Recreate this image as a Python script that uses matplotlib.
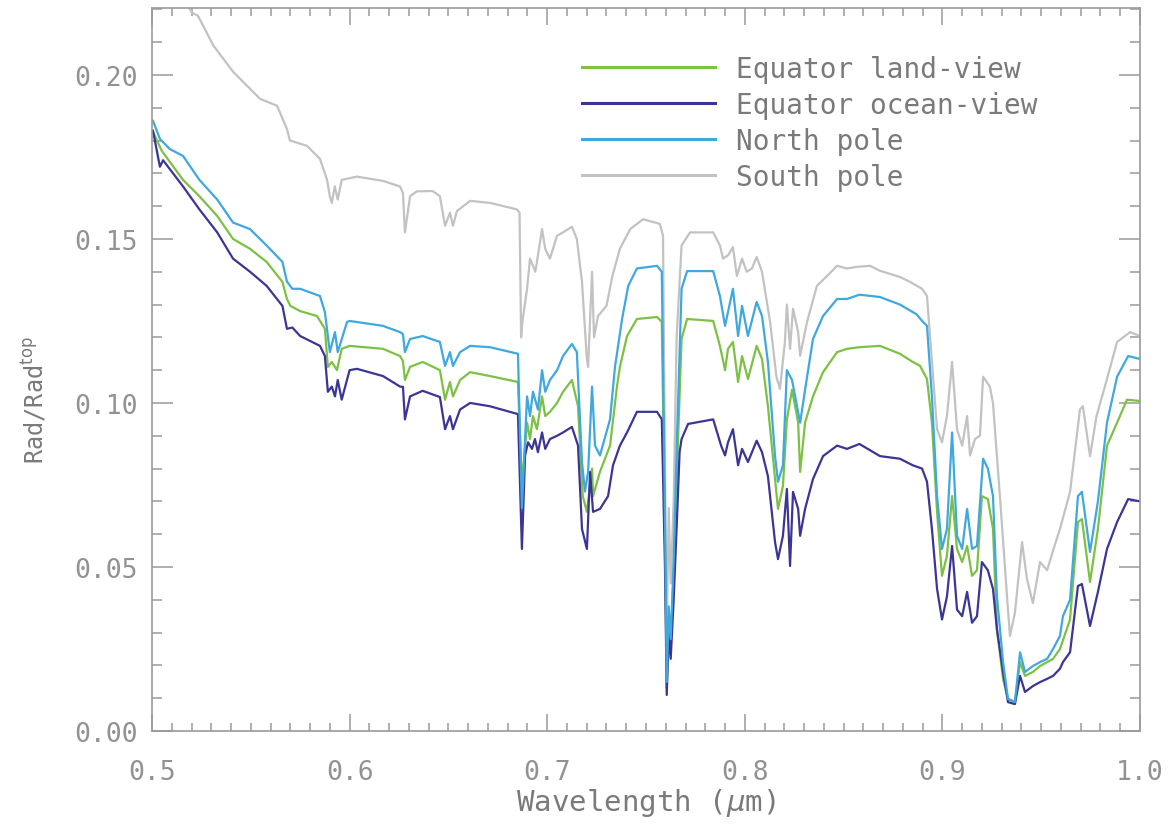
import matplotlib
matplotlib.use("Agg")
import matplotlib.pyplot as plt
from matplotlib.ticker import MultipleLocator

# ---- spectra: wavelength (um) and normalised radiance Rad/Rad_top ----
wl_south = [0.500, 0.512, 0.5202, 0.5233, 0.531, 0.541, 0.5547, 0.5633, 0.5683, 0.5698,
            0.5784, 0.585, 0.5886, 0.590, 0.591, 0.5925, 0.594, 0.596, 0.6037, 0.6169,
            0.6255, 0.627, 0.628, 0.6306, 0.634, 0.642, 0.6457, 0.6483, 0.6508, 0.6523,
            0.6543, 0.661, 0.671, 0.6847, 0.686, 0.6868, 0.6875, 0.6898, 0.6913, 0.694,
            0.6974, 0.699, 0.7014, 0.705, 0.708, 0.7125, 0.715, 0.7176, 0.720, 0.7207,
            0.7227, 0.7237, 0.7257, 0.730, 0.733, 0.7368, 0.742, 0.7485, 0.757, 0.7586,
            0.7596, 0.7605, 0.7615, 0.7625, 0.764, 0.7655, 0.768, 0.7723, 0.784, 0.7874,
            0.789, 0.7915, 0.794, 0.796, 0.7986, 0.801, 0.8036, 0.806, 0.8087, 0.8128,
            0.816, 0.8178, 0.8203, 0.8213, 0.8229, 0.8244, 0.827, 0.828, 0.8315, 0.8365,
            0.8416, 0.8467, 0.8517, 0.8568, 0.8634, 0.8684, 0.8785, 0.8836, 0.8897, 0.8922,
            0.8947, 0.8973, 0.8998, 0.9023, 0.9049, 0.9074, 0.910, 0.9125, 0.914, 0.9165,
            0.919, 0.9206, 0.924, 0.9256, 0.9291, 0.9327, 0.9342, 0.9367, 0.9403, 0.9428,
            0.9458, 0.9494, 0.953, 0.956, 0.9595, 0.9646, 0.9696, 0.9711, 0.9747, 0.978,
            0.9833, 0.9884, 0.995, 1.000]
rad_south = [0.238, 0.227, 0.219, 0.218, 0.209, 0.201, 0.1927, 0.1906, 0.1835, 0.180,
             0.1784, 0.1744, 0.168, 0.163, 0.161, 0.166, 0.162, 0.168, 0.169, 0.1677,
             0.166, 0.164, 0.152, 0.163, 0.1645, 0.1646, 0.163, 0.154, 0.158, 0.154,
             0.1585, 0.1616, 0.161, 0.159, 0.158, 0.120, 0.125, 0.1348, 0.144, 0.140,
             0.153, 0.147, 0.144, 0.151, 0.152, 0.1537, 0.150, 0.137, 0.114, 0.111,
             0.140, 0.120, 0.1265, 0.1296, 0.1387, 0.147, 0.153, 0.156, 0.1546, 0.151,
             0.080, 0.030, 0.068, 0.045, 0.070, 0.120, 0.148, 0.152, 0.152, 0.148,
             0.144, 0.145, 0.1475, 0.1387, 0.144, 0.140, 0.141, 0.1445, 0.140, 0.1247,
             0.108, 0.1043, 0.1186, 0.130, 0.1165, 0.1287, 0.1216, 0.1144, 0.1247, 0.1357,
             0.1387, 0.1418, 0.141, 0.1415, 0.1418, 0.1403, 0.1384, 0.1369, 0.1348, 0.1326,
             0.1125, 0.092, 0.088, 0.096, 0.1125, 0.092, 0.087, 0.096, 0.084, 0.089,
             0.090, 0.108, 0.105, 0.100, 0.0716, 0.041, 0.029, 0.036, 0.0576, 0.0463,
             0.039, 0.0515, 0.049, 0.055, 0.0616, 0.0729, 0.098, 0.099, 0.0838, 0.096,
             0.1073, 0.1186, 0.1216, 0.1204]

wl_land = [0.5005, 0.505, 0.509, 0.5157, 0.524, 0.533, 0.541, 0.5496, 0.558, 0.566,
           0.5683, 0.570, 0.575, 0.5835, 0.5875, 0.589, 0.591, 0.5936, 0.596, 0.600,
           0.6169, 0.6255, 0.627, 0.628, 0.6306, 0.637, 0.6457, 0.6483, 0.6508, 0.6523,
           0.6559, 0.661, 0.671, 0.6852, 0.6872, 0.6898, 0.6913, 0.6928, 0.6948, 0.6974,
           0.699, 0.7014, 0.705, 0.708, 0.7125, 0.7156, 0.718, 0.7201, 0.7227, 0.7232,
           0.7267, 0.7318, 0.7353, 0.7368, 0.7404, 0.7454, 0.7556, 0.758, 0.7596, 0.7605,
           0.7615, 0.7625, 0.764, 0.7657, 0.768, 0.7708, 0.784, 0.7874, 0.790, 0.7915,
           0.794, 0.7966, 0.7986, 0.8016, 0.806, 0.8087, 0.8117, 0.8153, 0.8168, 0.8193,
           0.8213, 0.8239, 0.827, 0.828, 0.8305, 0.8345, 0.8396, 0.8467, 0.8517, 0.858,
           0.8684, 0.8785, 0.885, 0.8887, 0.8922, 0.8947, 0.8973, 0.8998, 0.9023, 0.9049,
           0.9074, 0.910, 0.9125, 0.915, 0.9175, 0.920, 0.923, 0.9256, 0.9276, 0.9307,
           0.9332, 0.9367, 0.9393, 0.9418, 0.9458, 0.9494, 0.953, 0.956, 0.9595, 0.9646,
           0.9686, 0.9706, 0.9747, 0.9787, 0.9833, 0.9884, 0.9934, 1.000]
rad_land = [0.1826, 0.1768, 0.1735, 0.168, 0.163, 0.157, 0.150, 0.147, 0.143, 0.1369,
            0.1317, 0.1296, 0.128, 0.1265, 0.1226, 0.111, 0.1125, 0.110, 0.1165, 0.1174,
            0.1165, 0.1143, 0.1128, 0.107, 0.111, 0.1125, 0.110, 0.101, 0.1064, 0.102,
            0.107, 0.1094, 0.1082, 0.1064, 0.075, 0.094, 0.089, 0.096, 0.092, 0.102,
            0.096, 0.0973, 0.100, 0.1034, 0.107, 0.099, 0.0716, 0.0668, 0.080, 0.0716,
            0.079, 0.087, 0.105, 0.111, 0.1204, 0.1256, 0.1262, 0.1247, 0.060, 0.013,
            0.035, 0.026, 0.048, 0.080, 0.1195, 0.1256, 0.125, 0.1174, 0.110, 0.1165,
            0.1186, 0.1064, 0.1143, 0.1073, 0.1174, 0.1134, 0.099, 0.0768, 0.0677, 0.0747,
            0.095, 0.104, 0.094, 0.079, 0.094, 0.102, 0.1094, 0.1155, 0.1165, 0.117,
            0.1174, 0.115, 0.1125, 0.1113, 0.1073, 0.094, 0.0668, 0.0473, 0.0534, 0.0716,
            0.0555, 0.0515, 0.0564, 0.0473, 0.049, 0.0716, 0.0707, 0.0616, 0.031, 0.0158,
            0.0098, 0.0088, 0.021, 0.0168, 0.018, 0.0198, 0.021, 0.022, 0.025, 0.034,
            0.0637, 0.0646, 0.0454, 0.0616, 0.087, 0.094, 0.101, 0.1006]

wl_north = [0.5005, 0.504, 0.509, 0.5157, 0.524, 0.533, 0.541, 0.5496, 0.558, 0.566,
            0.5683, 0.571, 0.575, 0.585, 0.5875, 0.590, 0.5926, 0.594, 0.5987, 0.600,
            0.6169, 0.6255, 0.627, 0.628, 0.6306, 0.637, 0.6457, 0.6483, 0.6508, 0.6523,
            0.6559, 0.661, 0.671, 0.6852, 0.6872, 0.6898, 0.6913, 0.6928, 0.6953, 0.6974,
            0.699, 0.7014, 0.705, 0.708, 0.7125, 0.715, 0.7176, 0.7191, 0.7207, 0.7227,
            0.7242, 0.7267, 0.7318, 0.7343, 0.7379, 0.741, 0.7454, 0.7556, 0.758, 0.7596,
            0.7605, 0.7615, 0.7625, 0.764, 0.7657, 0.768, 0.7708, 0.784, 0.7874, 0.790,
            0.7915, 0.794, 0.7966, 0.7986, 0.8016, 0.806, 0.8087, 0.8117, 0.8153, 0.8168,
            0.8193, 0.8213, 0.8239, 0.8264, 0.828, 0.8305, 0.8345, 0.8396, 0.8467, 0.8517,
            0.858, 0.8684, 0.8785, 0.887, 0.8897, 0.8922, 0.8947, 0.8973, 0.8998, 0.9023,
            0.9049, 0.9074, 0.910, 0.9125, 0.915, 0.9175, 0.9206, 0.923, 0.9256, 0.9276,
            0.9307, 0.9332, 0.9367, 0.9393, 0.9418, 0.9458, 0.9494, 0.953, 0.956, 0.9595,
            0.961, 0.9646, 0.9686, 0.9706, 0.9747, 0.9787, 0.9833, 0.9884, 0.994, 1.000]
rad_north = [0.186, 0.1805, 0.1774, 0.1753, 0.168, 0.162, 0.155, 0.153, 0.148, 0.143,
             0.137, 0.1348, 0.1348, 0.1326, 0.1277, 0.1155, 0.1216, 0.1155, 0.1247, 0.125,
             0.1235, 0.1216, 0.121, 0.1155, 0.1195, 0.1204, 0.1186, 0.1113, 0.1155, 0.1113,
             0.1155, 0.1174, 0.117, 0.115, 0.068, 0.102, 0.096, 0.1034, 0.098, 0.110,
             0.1034, 0.107, 0.110, 0.1143, 0.118, 0.1155, 0.082, 0.073, 0.079, 0.105,
             0.087, 0.084, 0.095, 0.111, 0.1256, 0.1357, 0.141, 0.1418, 0.140, 0.065,
             0.015, 0.038, 0.028, 0.052, 0.090, 0.1348, 0.1402, 0.1402, 0.1326, 0.1235,
             0.1277, 0.1348, 0.1204, 0.1296, 0.1204, 0.1308, 0.1265, 0.1125, 0.0838, 0.076,
             0.081, 0.110, 0.107, 0.099, 0.094, 0.104, 0.1195, 0.1265, 0.1317, 0.1317,
             0.133, 0.1323, 0.130, 0.127, 0.125, 0.1235, 0.102, 0.0716, 0.0555, 0.0616,
             0.091, 0.0595, 0.0555, 0.0677, 0.0555, 0.0564, 0.083, 0.080, 0.0716, 0.041,
             0.021, 0.0098, 0.0088, 0.024, 0.018, 0.0198, 0.021, 0.022, 0.025, 0.029,
             0.035, 0.040, 0.0716, 0.0729, 0.0546, 0.070, 0.094, 0.108, 0.1143, 0.1134]

wl_ocean = [0.5005, 0.504, 0.5056, 0.509, 0.5157, 0.524, 0.533, 0.541, 0.5496, 0.558,
            0.566, 0.5683, 0.571, 0.575, 0.585, 0.5875, 0.589, 0.591, 0.5926, 0.594,
            0.596, 0.600, 0.6037, 0.6169, 0.6255, 0.627, 0.628, 0.6306, 0.637, 0.6457,
            0.6483, 0.6508, 0.6523, 0.6559, 0.661, 0.671, 0.6852, 0.6872, 0.6888, 0.6903,
            0.6923, 0.6938, 0.6953, 0.6974, 0.699, 0.7014, 0.705, 0.708, 0.7125, 0.7156,
            0.7176, 0.7201, 0.7217, 0.7232, 0.7267, 0.7308, 0.7333, 0.7368, 0.7404, 0.7454,
            0.7556, 0.758, 0.7596, 0.7605, 0.7615, 0.7625, 0.764, 0.7657, 0.767, 0.768,
            0.7713, 0.784, 0.788, 0.790, 0.7915, 0.794, 0.7966, 0.7986, 0.8016, 0.806,
            0.8087, 0.8117, 0.8153, 0.8168, 0.8193, 0.8213, 0.8229, 0.8244, 0.827, 0.828,
            0.8305, 0.8345, 0.8396, 0.8467, 0.8517, 0.858, 0.8684, 0.8785, 0.885, 0.8897,
            0.8922, 0.8947, 0.8973, 0.8998, 0.9023, 0.9049, 0.9074, 0.910, 0.9125, 0.915,
            0.9175, 0.920, 0.923, 0.9256, 0.9276, 0.9307, 0.9332, 0.9367, 0.9393, 0.9418,
            0.9458, 0.9494, 0.953, 0.956, 0.9595, 0.961, 0.9646, 0.9686, 0.9706, 0.9747,
            0.9787, 0.9833, 0.9884, 0.994, 1.000]
rad_ocean = [0.183, 0.172, 0.174, 0.1713, 0.166, 0.159, 0.152, 0.144, 0.140, 0.1357,
             0.1296, 0.1226, 0.123, 0.1204, 0.1174, 0.1143, 0.1034, 0.105, 0.102, 0.107,
             0.101, 0.110, 0.1104, 0.1082, 0.105, 0.1049, 0.095, 0.102, 0.1037, 0.1018,
             0.092, 0.096, 0.092, 0.098, 0.100, 0.099, 0.0966, 0.0555, 0.084, 0.088,
             0.086, 0.089, 0.085, 0.091, 0.086, 0.089, 0.090, 0.091, 0.0927, 0.087,
             0.0616, 0.0555, 0.079, 0.0668, 0.0677, 0.0716, 0.081, 0.087, 0.091, 0.0973,
             0.0973, 0.095, 0.050, 0.011, 0.030, 0.022, 0.040, 0.065, 0.085, 0.089,
             0.0936, 0.095, 0.087, 0.084, 0.088, 0.092, 0.081, 0.086, 0.082, 0.0885,
             0.085, 0.0777, 0.0576, 0.0524, 0.0595, 0.0738, 0.0503, 0.0729, 0.0677, 0.0595,
             0.0677, 0.0768, 0.0838, 0.087, 0.086, 0.0875, 0.0838, 0.083, 0.081, 0.080,
             0.076, 0.0616, 0.0433, 0.034, 0.041, 0.0564, 0.037, 0.035, 0.0424, 0.033,
             0.035, 0.0515, 0.049, 0.0433, 0.031, 0.018, 0.0088, 0.0082, 0.0168, 0.0119,
             0.0137, 0.0149, 0.0159, 0.0168, 0.019, 0.021, 0.024, 0.0442, 0.0448, 0.032,
             0.0424, 0.0555, 0.0637, 0.0707, 0.070]

labels = ["Equator land-view", "Equator ocean-view", "North pole", "South pole"]
colors = ["#7cc143", "#3b3596", "#3ea8df", "#c2c2c2"]

TXT = "#929292"
AX = "#9a9a9a"
MONO = "DejaVu Sans Mono"

fig = plt.figure(figsize=(11.7, 8.37), dpi=100)
ax = fig.add_axes([152 / 1170, 1 - 732 / 837, 988 / 1170, 723 / 837])

lw = 1.6
h_south, = ax.plot(wl_south, rad_south, color=colors[3], lw=lw, label=labels[3])
h_land, = ax.plot(wl_land, rad_land, color=colors[0], lw=lw, label=labels[0])
h_ocean, = ax.plot(wl_ocean, rad_ocean, color=colors[1], lw=lw, label=labels[1])
h_north, = ax.plot(wl_north, rad_north, color=colors[2], lw=lw, label=labels[2])

ax.set_xlim(0.5, 1.0)
ax.set_ylim(0.0, 0.2204)

ax.xaxis.set_major_locator(MultipleLocator(0.1))
ax.xaxis.set_minor_locator(MultipleLocator(0.01))
ax.yaxis.set_major_locator(MultipleLocator(0.05))
ax.yaxis.set_minor_locator(MultipleLocator(0.01))
ax.xaxis.set_major_formatter(plt.FuncFormatter(lambda v, p: f"{v:.1f}"))
ax.yaxis.set_major_formatter(plt.FuncFormatter(lambda v, p: f"{v:.2f}"))

for s in ax.spines.values():
    s.set_color(AX)
    s.set_linewidth(1.2)
ax.tick_params(which="both", direction="in", top=True, right=True, color=AX, width=1.1)
ax.tick_params(axis="y", which="major", length=15, pad=10, labelsize=19, labelcolor=TXT)
ax.tick_params(axis="y", which="minor", length=7.5)
ax.tick_params(axis="x", which="major", length=12, pad=20, labelsize=19, labelcolor=TXT)
ax.tick_params(axis="x", which="minor", length=6)
for t in ax.get_xticklabels() + ax.get_yticklabels():
    t.set_family(MONO)

ax.set_xlabel(r"Wavelength ($\mu$m)", family=MONO, fontsize=21, color="#7a7a7a", labelpad=1)
ax.set_ylabel(r"Rad/Rad$^{\rm top}$", family=MONO, fontsize=17, color="#7a7a7a")
ax.yaxis.set_label_coords(-0.105, 0.459)

leg = ax.legend(handles=[h_land, h_ocean, h_north, h_south], labels=labels,
                loc="upper left", bbox_to_anchor=(0.435, 0.935), frameon=False,
                borderpad=0, borderaxespad=0, handlelength=4.8, handletextpad=0.75,
                labelspacing=0.29, prop={"family": MONO, "size": 20})
for t in leg.get_texts():
    t.set_color("#7a7a7a")
for l in leg.get_lines():
    l.set_linewidth(2.2)

fig.savefig("out.png", dpi=100)
